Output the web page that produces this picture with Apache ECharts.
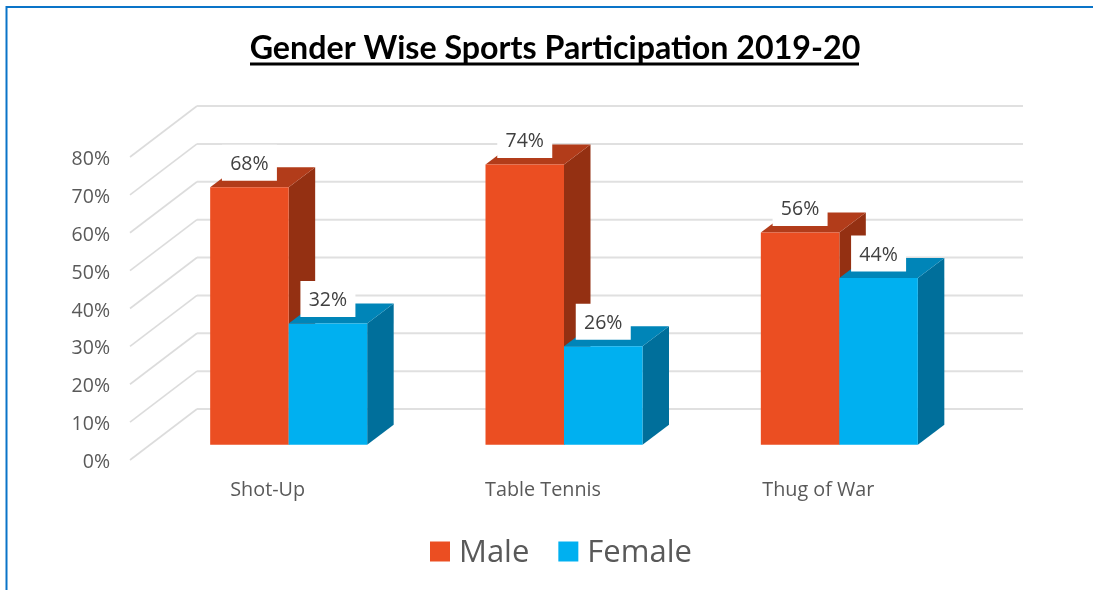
<!DOCTYPE html>
<html>
<head>
<meta charset="utf-8">
<style>html,body{margin:0;padding:0;background:#fff}#c{width:1093px;height:590px}</style>
<script src="https://cdn.jsdelivr.net/npm/echarts@6/dist/echarts.min.js"></script>
</head>
<body>
<div id="c"></div>
<script>
const categories = ['Shot-Up', 'Table Tennis', 'Thug of War'];
const maleValues = [68, 74, 56];
const femaleValues = [32, 26, 44];
const yTicks = [0, 10, 20, 30, 40, 50, 60, 70, 80];
const titleText = 'Gender Wise Sports Participation 2019-20';

const FONT = '"Open Sans", sans-serif';
const wallDX = 67, wallDY = -51;
const barFrontDX = 21, barFrontDY = -15.3;
const barDepthX = 26.5, barDepthY = -20;
const barW = 78.5;

function barRender(side, colors) {
  return function (params, api) {
    const v = api.value(1);
    const base = api.coord([api.value(0), 0]);
    const top = api.coord([api.value(0), v]);
    const c = base[0] + barFrontDX;
    const x0 = side < 0 ? c - barW : c;
    const x1 = x0 + barW;
    const yb = base[1] + barFrontDY;
    const yt = top[1] + barFrontDY;
    return {
      type: 'group',
      children: [
        { type: 'polygon', shape: { points: [[x1, yt], [x1 + barDepthX, yt + barDepthY], [x1 + barDepthX, yb + barDepthY], [x1, yb]] }, style: { fill: colors[2] } },
        { type: 'polygon', shape: { points: [[x0, yt], [x0 + barDepthX, yt + barDepthY], [x1 + barDepthX, yt + barDepthY], [x1, yt]] }, style: { fill: colors[1] } },
        { type: 'rect', shape: { x: x0, y: yt, width: barW, height: yb - yt }, style: { fill: colors[0] } }
      ]
    };
  };
}

function labelRender(side) {
  return function (params, api) {
    const v = api.value(1);
    const base = api.coord([api.value(0), 0]);
    const top = api.coord([api.value(0), v]);
    const c = base[0] + barFrontDX;
    const cx = c + side * barW / 2;
    const yt = top[1] + barFrontDY;
    return {
      type: 'group',
      children: [
        { type: 'rect', shape: { x: cx - 27.5, y: yt - 42.5, width: 55, height: 36 }, style: { fill: '#fff' } },
        { type: 'text', style: { text: v + '%', x: cx, y: yt - 23, align: 'center', verticalAlign: 'middle', fill: '#404040', font: '19.5px ' + FONT } }
      ]
    };
  };
}

function gridRender(params, api) {
  const p = api.coord([0, api.value(1)]);
  const cs = params.coordSys;
  const y = p[1];
  return {
    type: 'group',
    children: [
      { type: 'line', shape: { x1: cs.x, y1: y, x2: cs.x + wallDX, y2: y + wallDY }, style: { stroke: '#dcdcdc', lineWidth: 1.6 } },
      { type: 'line', shape: { x1: cs.x + wallDX, y1: y + wallDY, x2: cs.x + cs.width + wallDX, y2: y + wallDY }, style: { stroke: '#e0e0e0', lineWidth: 2 } }
    ]
  };
}

const chart = echarts.init(document.getElementById('c'), null, { renderer: 'canvas' });
chart.setOption({
  animation: false,
  backgroundColor: '#fff',
  title: {
    text: titleText, left: 550, top: 28, textAlign: 'center',
    textStyle: { fontFamily: 'Lato', fontWeight: 'bold', fontSize: 32.2, color: '#000' }
  },
  legend: {
    data: ['Male', 'Female'], left: 430, top: 538, padding: 0, icon: 'rect', itemWidth: 20, itemHeight: 20, itemGap: 29,
    selectedMode: false,
    formatter: n => '{t|' + n + '}',
    textStyle: { rich: { t: { fontFamily: FONT, fontSize: 31, color: '#595959', padding: [4, 0, 0, 4] } } }
  },
  grid: { left: 130, right: 137, top: 157, bottom: 130 },
  xAxis: {
    type: 'category', data: categories,
    axisLine: { show: false }, axisTick: { show: false },
    axisLabel: { margin: 20, fontFamily: FONT, fontSize: 19.8, color: '#595959' }
  },
  yAxis: {
    type: 'value', min: 0, max: 80, interval: 10,
    axisLine: { show: false }, axisTick: { show: false }, splitLine: { show: false },
    axisLabel: {
      margin: 20,
      formatter: v => '{t|' + v + '%}',
      rich: { t: { fontFamily: FONT, fontSize: 19.5, color: '#595959', padding: [5, 0, 0, 0] } }
    }
  },
  series: [
    { type: 'custom', name: 'grid', silent: true, z: 1, renderItem: gridRender, data: yTicks.map(t => [0, t]), encode: { x: 0, y: 1 } },
    { type: 'custom', name: 'Male', z: 2, itemStyle: { color: '#EB4E22' }, renderItem: barRender(-1, ['#EB4E22', '#B23C1A', '#943012']), data: maleValues.map((v, i) => [i, v]), encode: { x: 0, y: 1 } },
    { type: 'custom', name: 'Female', z: 3, itemStyle: { color: '#00B0F0' }, renderItem: barRender(1, ['#00B0F0', '#0085B8', '#006F9B']), data: femaleValues.map((v, i) => [i, v]), encode: { x: 0, y: 1 } },
    { type: 'custom', name: 'maleLabels', silent: true, z: 4, renderItem: labelRender(-1), data: maleValues.map((v, i) => [i, v]), encode: { x: 0, y: 1 } },
    { type: 'custom', name: 'femaleLabels', silent: true, z: 4, renderItem: labelRender(1), data: femaleValues.map((v, i) => [i, v]), encode: { x: 0, y: 1 } }
  ],
  graphic: [
    { type: 'polyline', shape: { points: [[6.5, 590], [6.5, 7], [1093, 7]] }, style: { stroke: '#0A74C8', lineWidth: 2, fill: null }, silent: true },
    { type: 'rect', shape: { x: 250, y: 62.5, width: 609, height: 3 }, style: { fill: '#000' }, silent: true }
  ]
});
</script>
</body>
</html>
